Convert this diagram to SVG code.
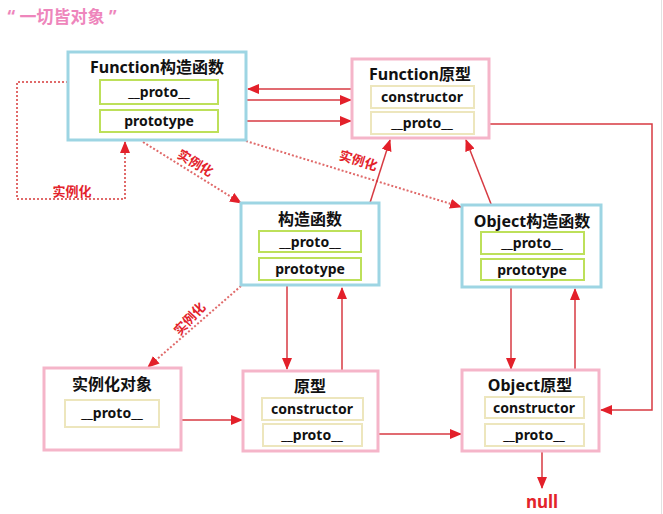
<svg xmlns="http://www.w3.org/2000/svg" width="663" height="514" viewBox="0 0 663 514">
<defs>
<marker id="ah" markerUnits="userSpaceOnUse" markerWidth="12" markerHeight="10" refX="11" refY="5" orient="auto">
<path d="M0,0 L12,5 L0,10 Z" fill="#e3202a"/>
</marker>
<style>
text{font-family:"Noto Sans","Noto Sans CJK SC",sans-serif;font-weight:bold;text-anchor:middle;fill:#111}
.t{font-size:16px}
.f{font-size:14px}
.blue{fill:#fff;stroke:#9dd5e3;stroke-width:3}
.pink{fill:#fff;stroke:#f5b5c9;stroke-width:3}
.green{fill:#fff;stroke:#bde05a;stroke-width:2}
.beige{fill:#fff;stroke:#ede6bd;stroke-width:2}
.ln{fill:none;stroke:#d73a42;stroke-width:1.5}
.dt{fill:none;stroke:#e06a6a;stroke-width:2;stroke-dasharray:2 2}
.lb{fill:#e3232b;font-size:13px}
</style>
</defs>
<rect width="663" height="514" fill="#fff"/>
<line x1="661.5" y1="0" x2="661.5" y2="514" stroke="#e2e2e2" stroke-width="1"/>
<text x="62" y="23" style="font-size:17px;fill:#ee86bc">“ 一切皆对象 ”</text>

<g id="connectors">
<line class="ln" x1="371" y1="89" x2="248" y2="89" marker-end="url(#ah)"/>
<line class="ln" x1="218" y1="100" x2="351" y2="100" marker-end="url(#ah)"/>
<line class="ln" x1="218" y1="121" x2="351" y2="121" marker-end="url(#ah)"/>
<polyline class="ln" points="474,124 652,124 652,410 601,410" marker-end="url(#ah)"/>
<polyline class="dt" points="68,82 17,82 17,199 125,199 125,142" marker-end="url(#ah)"/>
<line class="dt" x1="143" y1="142" x2="241" y2="203" marker-end="url(#ah)"/>
<line class="dt" x1="246" y1="141" x2="461" y2="207" marker-end="url(#ah)"/>
<line class="ln" x1="361" y1="231" x2="390" y2="140" marker-end="url(#ah)"/>
<line class="ln" x1="502" y1="232" x2="466" y2="140" marker-end="url(#ah)"/>
<line class="ln" x1="287" y1="280" x2="287" y2="369" marker-end="url(#ah)"/>
<line class="ln" x1="342" y1="398" x2="342" y2="288" marker-end="url(#ah)"/>
<line class="dt" x1="241" y1="286" x2="148" y2="367" marker-end="url(#ah)"/>
<line class="ln" x1="159" y1="420" x2="242" y2="420" marker-end="url(#ah)"/>
<line class="ln" x1="362" y1="434" x2="461" y2="434" marker-end="url(#ah)"/>
<line class="ln" x1="511" y1="280" x2="511" y2="369" marker-end="url(#ah)"/>
<line class="ln" x1="575" y1="397" x2="575" y2="289" marker-end="url(#ah)"/>
<line class="ln" x1="542" y1="446" x2="542" y2="488" marker-end="url(#ah)"/>
<text class="lb" x="72" y="196">实例化</text>
<text class="lb" x="0" y="0" transform="translate(193,167) rotate(31)">实例化</text>
<text class="lb" x="0" y="0" transform="translate(357,165) rotate(17)">实例化</text>
<text class="lb" x="0" y="0" transform="translate(193,322) rotate(-47)">实例化</text>
<text x="542" y="508" style="font-size:17px;fill:#e3232b">null</text>
</g>

<g id="function-ctor">
<rect class="blue" x="68" y="52" width="178" height="88"/>
<text class="t" x="157" y="73">Function构造函数</text>
<rect class="green" x="100" y="80" width="118" height="24"/>
<text class="f" x="159" y="97">__proto__</text>
<rect class="green" x="100" y="110" width="118" height="22"/>
<text class="f" x="159" y="126">prototype</text>
</g>

<g id="function-proto">
<rect class="pink" x="352" y="59" width="137" height="79"/>
<text class="t" x="420" y="80">Function原型</text>
<rect class="beige" x="371" y="86" width="103" height="22"/>
<text class="f" x="422" y="102">constructor</text>
<rect class="beige" x="371" y="112" width="103" height="22"/>
<text class="f" x="422" y="128">__proto__</text>
</g>

<g id="ctor">
<rect class="blue" x="241" y="203" width="138" height="82"/>
<text class="t" x="310" y="225">构造函数</text>
<rect class="green" x="259" y="231" width="102" height="21"/>
<text class="f" x="310" y="247">__proto__</text>
<rect class="green" x="259" y="258" width="102" height="22"/>
<text class="f" x="310" y="274">prototype</text>
</g>

<g id="object-ctor">
<rect class="blue" x="462" y="205" width="139" height="82"/>
<text class="t" x="532" y="227">Object构造函数</text>
<rect class="green" x="481" y="232" width="103" height="22"/>
<text class="f" x="532" y="248">__proto__</text>
<rect class="green" x="481" y="259" width="103" height="21"/>
<text class="f" x="532" y="275">prototype</text>
</g>

<g id="instance">
<rect class="pink" x="44" y="368" width="137" height="82"/>
<text class="t" x="112" y="390">实例化对象</text>
<rect class="beige" x="65" y="400" width="94" height="27"/>
<text class="f" x="112" y="418">__proto__</text>
</g>

<g id="proto">
<rect class="pink" x="243" y="371" width="135" height="80"/>
<text class="t" x="310" y="392">原型</text>
<rect class="beige" x="262" y="398" width="101" height="22"/>
<text class="f" x="312" y="414">constructor</text>
<rect class="beige" x="263" y="424" width="99" height="22"/>
<text class="f" x="312" y="440">__proto__</text>
</g>

<g id="object-proto">
<rect class="pink" x="462" y="370" width="137" height="81"/>
<text class="t" x="530" y="391">Object原型</text>
<rect class="beige" x="485" y="397" width="99" height="21"/>
<text class="f" x="534" y="413">constructor</text>
<rect class="beige" x="485" y="424" width="99" height="22"/>
<text class="f" x="534" y="440">__proto__</text>
</g>
</svg>
